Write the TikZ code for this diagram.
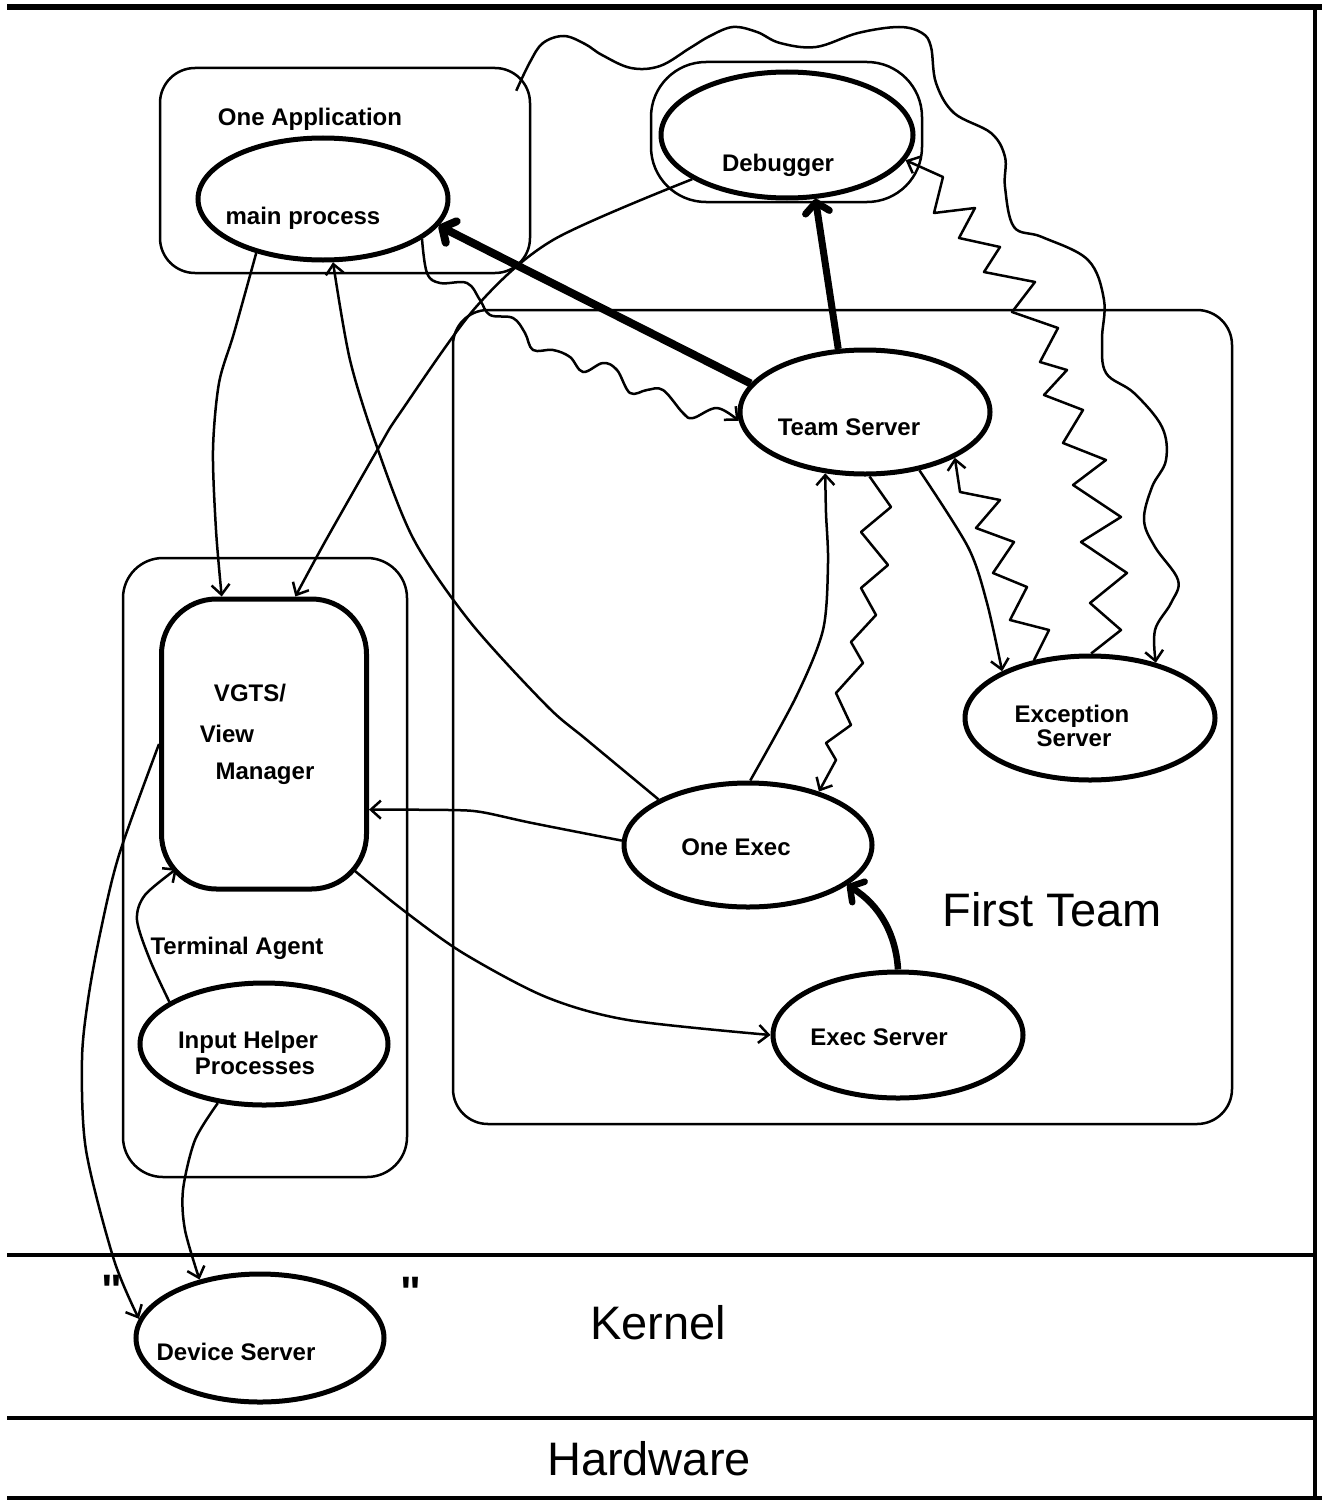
\documentclass[tikz,border=0pt]{standalone}
\usepackage{fontspec}
\setmainfont{Liberation Sans}
\newfontfamily\qfont{Liberation Sans}[Ligatures=TeXOff]
\usetikzlibrary{arrows.meta,shapes.geometric}
\begin{document}
\begin{tikzpicture}[x=1pt,y=-1pt,
  proc/.style={draw, ellipse, line width=5pt, inner sep=0pt},
  cont/.style={draw, rectangle, line width=2.5pt},
  lbl/.style={font=\fontsize{24}{22}\selectfont\bfseries, inner sep=0pt},
  quot/.style={font=\fontsize{44}{44}\selectfont\bfseries\qfont, inner sep=0pt},
  bigtxt/.style={font=\fontsize{47}{50}\selectfont, inner sep=0pt},
  link/.style={line width=2.5pt, line join=round, -{Straight Barb[length=10pt,width=18pt]}},
  heavy/.style={line width=8pt, -{Straight Barb[length=10pt,width=24pt,round]}},
  frameline/.style={line width=4.5pt},
]
\useasboundingbox (0,0) rectangle (1322,1501);

% frame and layers
\draw[frameline, line width=6pt] (7,7) -- (1322,7);
\draw[frameline] (1315,7) -- (1315,1498);
\draw[frameline] (7,1255) -- (1315,1255);
\draw[frameline] (7,1418) -- (1315,1418);
\draw[frameline] (7,1498) -- (1322,1498);

% containers
\node[cont, rounded corners=35pt, minimum width=370pt, minimum height=205pt] (app) at (345,170.5) {};
\node[cont, rounded corners=55pt, minimum width=271pt, minimum height=140pt] (dbo) at (786.5,132) {};
\node[cont, rounded corners=35pt, minimum width=779pt, minimum height=814pt] (ft) at (842.5,717) {};
\node[cont, rounded corners=40pt, minimum width=284pt, minimum height=619pt] (ta) at (265,867.5) {};

% processes
\node[proc, minimum width=250pt, minimum height=122pt] (mp) at (323,199) {};
\node[proc, minimum width=252pt, minimum height=126pt] (db) at (787,135) {};
\node[proc, minimum width=250pt, minimum height=124pt] (ts) at (865,412) {};
\node[proc, minimum width=250pt, minimum height=124pt] (ex) at (1090,718) {};
\node[proc, minimum width=248pt, minimum height=124pt] (oe) at (748,845) {};
\node[proc, minimum width=250pt, minimum height=126pt] (es) at (898,1035) {};
\node[proc, minimum width=248pt, minimum height=122pt] (ih) at (264,1044) {};
\node[proc, minimum width=248pt, minimum height=128pt] (ds) at (260,1338) {};
\node[draw, rectangle, rounded corners=55pt, line width=5pt, minimum width=205pt, minimum height=290pt] (vg) at (264,744) {};

% labels
\node[lbl] (app-t) at (310,119) {One Application};
\node[lbl] (mp-t) at (303,218) {main process};
\node[lbl] (db-t) at (778,165) {Debugger};
\node[lbl] (ts-t) at (849,427) {Team Server};
\node[lbl] (ex-t1) at (1072,716) {Exception};
\node[lbl] (ex-t2) at (1074,738) {Server};
\node[lbl] (oe-t) at (736,847) {One Exec};
\node[lbl] (es-t) at (879,1037) {Exec Server};
\node[lbl] (vg-t1) at (250,693) {VGTS/};
\node[lbl] (vg-t2) at (227,734) {View};
\node[lbl] (vg-t3) at (265,774) {Manager};
\node[lbl] (ta-t) at (237,948) {Terminal Agent};
\node[lbl] (ih-t1) at (248,1042) {Input Helper};
\node[lbl] (ih-t2) at (255,1066) {Processes};
\node[lbl] (ds-t) at (236,1352) {Device Server};
\node[quot] (q1) at (112,1290) {"};
\node[quot] (q2) at (411,1292) {"};
\node[bigtxt] (ft-t) at (1052,910) {First Team};
\node[bigtxt] (kern) at (658,1323) {Kernel};
\node[bigtxt] (hw) at (649,1459) {Hardware};

% heavy arrows
\draw[heavy] (ts.166) -- (mp.-13);
\draw[heavy, line width=7pt] (ts.113) -- (db.-66);
\draw[heavy, line width=6.5pt] (es.90) .. controls (896,935) and (880,905) .. (oe.-22);

% thin arrows
\draw[link] plot[smooth, tension=0.5] coordinates {(mp.-141) (234,333) (219,383) (213,450) (216,530) (vg.106)};
\draw[link] plot[smooth, tension=0.5] coordinates {(db.-155) (553,240) (476,307) (400,413) (379,447) (326,540) (vg.78)};
\draw[link] plot[smooth, tension=0.5] coordinates {(oe.153) (587,740) (547,706) (471,623) (414,540) (377,447) (350,360) (mp.-81)};
\draw[link] plot[smooth, tension=0.5] coordinates {(oe.88) (796,697) (823,630) (828,563) (826,513) (ts.-123)};
\draw[link] plot[smooth, tension=0.5] coordinates {(ts.-47) (968,547) (987,603) (ex.152)};
\draw[link] plot[smooth, tension=0.5] coordinates {(oe.178) (532,823) (481,812) (449,810) (vg.-32)};
\draw[link] plot[smooth, tension=0.5] coordinates {([shift={(-17,-23)}]vg.south east) (403,910) (463,953) (546,997) (628,1020) (es.180)};
\draw[link] plot[smooth, tension=0.5] coordinates {(ih.156) (150,960) (137,920) (145,895) ([shift={(18,-23)}]vg.south west)};
\draw[link] plot[smooth, tension=0.5] coordinates {(vg.west) (119,855) (100,934) (88,1000) (82,1060) (86,1150) (114,1260) (ds.171)};
\draw[link] plot[smooth, tension=0.5] coordinates {(ih.-128) (195,1140) (183,1190) (185,1230) (ds.136)};

% wavy arrows
\draw[link] plot[smooth, tension=0.6] coordinates {(mp.-22) (427,273) (440,283) (467,283) (480,300) (490,315) (513,318) (525,333) (533,350) (553,350) (570,357) (583,372) (603,363) (617,370) (630,393) (647,390) (663,390) (683,413) (693,418) (717,408) (ts.-176)};
\draw[link] plot[smooth, tension=0.6] coordinates {([shift={(-15,24)}]app.north east) (530,62) (543,43) (564,36) (585,44) (602,55) (631,68) (660,66) (690,48) (710,36) (733,27) (757,32) (780,43) (816,47) (858,33) (899,27) (922,33) (931,47) (936,83) (954,113) (991,133) (1005,157) (1005,187) (1014,227) (1042,237) (1088,260) (1104,300) (1102,340) (1106,373) (1134,393) (1162,427) (1166,460) (1152,487) (1144,520) (1155,547) (1178,580) (1171,603) (1155,630) (ex.40)};

% zigzag arrows
\draw[link] (ts.-86) -- (891,507) -- (861,532) -- (888,565) -- (861,588) -- (876,615) -- (851,642) -- (863,663) -- (836,693) -- (851,725) -- (826,743) -- (836,760) -- (oe.37);
\draw[link] (ex.134) -- (1049,630) -- (1010,620) -- (1027,587) -- (993,573) -- (1014,542) -- (976,528) -- (1000,500) -- (960,492) -- (ts.-27);
\draw[link] (ex.89) -- (1121,630) -- (1090,603) -- (1127,573) -- (1081,542) -- (1121,517) -- (1073,485) -- (1106,460) -- (1063,443) -- (1083,410) -- (1044,395) -- (1067,370) -- (1040,362) -- (1058,328) -- (1012,312) -- (1035,282) -- (984,272) -- (1000,247) -- (959,238) -- (975,208) -- (934,213) -- (943,177) -- (db.-12);
\end{tikzpicture}
\end{document}
